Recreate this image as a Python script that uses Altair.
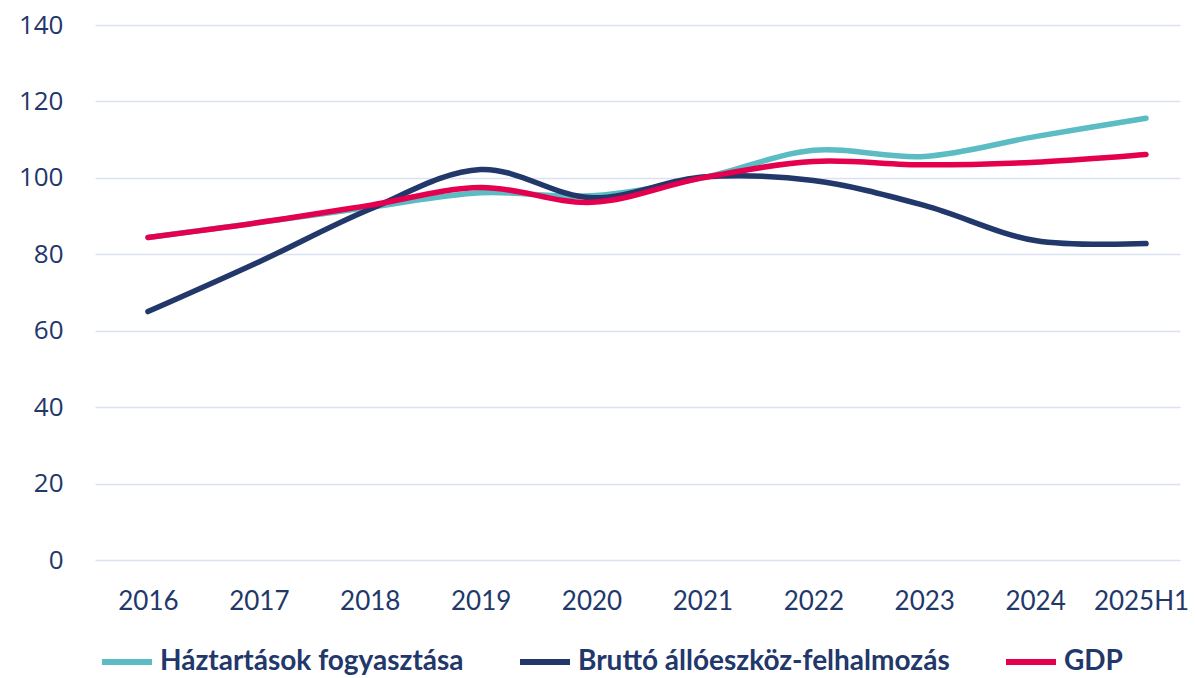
import altair as alt
import pandas as pd

years = ["2016", "2017", "2018", "2019", "2020", "2021", "2022", "2023", "2024", "2025H1"]
haztartas = [84.4, 88.3, 92.3, 96.1, 95.3, 100.0, 107.2, 105.6, 110.8, 115.6]
brutto = [65.0, 78.0, 91.8, 102.2, 94.8, 100.2, 99.3, 92.8, 83.6, 82.8]
gdp = [84.4, 88.3, 92.8, 97.5, 93.6, 100.0, 104.3, 103.4, 104.1, 106.1]

series_names = ["Háztartások fogyasztása", "Bruttó állóeszköz-felhalmozás", "GDP"]
series_colors = ["#5BBCC4", "#22376A", "#E4004F"]
y_ticks = [0, 20, 40, 60, 80, 100, 120, 140]

rows = []
for name, vals in zip(series_names, [haztartas, brutto, gdp]):
    for i, (yr, v) in enumerate(zip(years, vals)):
        rows.append({"year": yr, "value": v, "series": name, "order": i})
df = pd.DataFrame(rows)

text_color = "#22376A"
label_font = "Open Sans"
x_font = "Lato"
legend_font = "Lato"

chart = alt.Chart(df).mark_line(
    interpolate="catmull-rom", strokeWidth=5.5, strokeCap="round"
).encode(
    x=alt.X("year:N", sort=years, title=None,
            scale=alt.Scale(type="point", padding=0.392, align=0.609),
            axis=alt.Axis(labelAngle=0, grid=False, domain=False, ticks=False,
                          labelFont=x_font, labelFontSize=26, labelColor=text_color,
                          labelPadding=28,
                          labelOffset={"expr": "datum.label == '2025H1' ? -5 : 0"})),
    y=alt.Y("value:Q", title=None,
            scale=alt.Scale(domain=[0, 140], nice=False, zero=True),
            axis=alt.Axis(values=y_ticks, grid=True, gridColor="#D9E1F2", gridWidth=1.5,
                          domain=False, ticks=False,
                          labelFont=label_font, labelFontSize=26, labelColor=text_color,
                          labelPadding=32)),
    color=alt.Color("series:N", sort=series_names,
                    scale=alt.Scale(domain=series_names, range=series_colors),
                    legend=alt.Legend(title=None, orient="none", direction="horizontal",
                                      legendX=4, legendY=609,
                                      symbolType="stroke", symbolSize=2500, symbolStrokeWidth=6,
                                      labelFont=legend_font, labelFontSize=28,
                                      labelFontWeight="bold", labelColor=text_color,
                                      labelOffset=5, columnPadding=44, labelLimit=500)),
    order="order:Q",
).properties(
    width=1085, height=535,
    autosize=alt.AutoSizeParams(type="none"),
    padding={"left": 87, "top": 17, "right": 8, "bottom": 117},
).configure_view(stroke=None)

chart.save("out.html", embed_options={"renderer": "svg", "actions": False})
